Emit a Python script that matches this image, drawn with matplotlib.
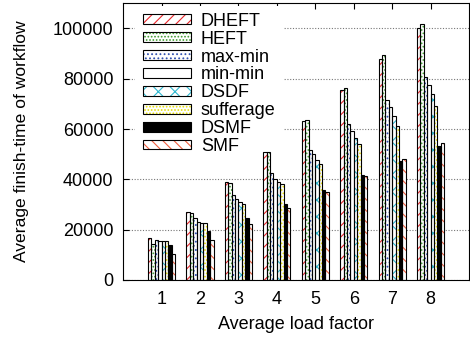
import numpy as np
import matplotlib
matplotlib.use('Agg')
import matplotlib.pyplot as plt
from matplotlib.patches import Patch
from matplotlib.legend_handler import HandlerTuple

plt.rcParams['font.family'] = ['Liberation Sans', 'DejaVu Sans']
plt.rcParams['hatch.linewidth'] = 0.8

# load factors (x axis)
load = [1, 2, 3, 4, 5, 6, 7, 8]

# average finish-time of workflow, per algorithm
dheft     = [16600, 27200, 38900, 50900, 63300, 75700, 87900, 100000]
heft      = [14300, 26600, 38500, 50900, 63700, 76400, 89400, 101900]
max_min   = [15900, 24600, 33600, 42500, 51800, 62100, 71700, 80700]
min_min   = [15500, 23200, 32300, 40200, 50100, 59400, 68800, 77500]
dsdf      = [15300, 22800, 31000, 38900, 47800, 56400, 65300, 74000]
sufferage = [15400, 22800, 30300, 38100, 46200, 54100, 61100, 69000]
dsmf      = [13900, 19500, 24800, 30300, 35900, 41800, 47400, 53100]
smf       = [10200, 15900, 22200, 28500, 34800, 41200, 48100, 54400]

names = ['DHEFT', 'HEFT', 'max-min', 'min-min', 'DSDF', 'sufferage', 'DSMF', 'SMF']
series = [dheft, heft, max_min, min_min, dsdf, sufferage, dsmf, smf]
# (fill colour, hatch colour, hatch)
styles = [
    ('white', '#e8262b', '///'),
    ('white', '#3a9a2a', '.....'),
    ('white', '#3050b0', '....'),
    ('white', 'white', ''),
    ('white', '#30b8d0', 'xx'),
    ('white', '#e8e000', '.....'),
    ('black', 'black', ''),
    ('white', '#f06040', '\\\\\\'),
]

fig = plt.figure(figsize=(4.70, 3.43), dpi=100)
ax = fig.add_axes([0.262, 0.1837, 0.736, 0.807])

x = np.array(load, dtype=float)
w = 0.088
handles = []
for i, (vals, (fc, hc, hatch)) in enumerate(zip(series, styles)):
    pos = x + (i - 3.5) * w
    ax.bar(pos, vals, w, color=fc, edgecolor=hc, hatch=hatch, linewidth=0, zorder=2)
    ax.bar(pos, vals, w, fill=False, edgecolor='black', linewidth=0.8, zorder=3)
    p1 = Patch(facecolor=fc, edgecolor=hc, hatch=hatch, linewidth=0)
    p2 = Patch(fill=False, edgecolor='black', linewidth=0.8)
    handles.append((p1, p2))

ax.set_xlim(0, 9)
ax.set_ylim(0, 110000)
ax.set_xticks(load)
ax.set_yticks([0, 20000, 40000, 60000, 80000, 100000])
ax.yaxis.grid(True, linestyle=(0, (1, 1.5)), color='#777777', linewidth=0.8, zorder=0)
ax.set_axisbelow(True)
ax.tick_params(axis='both', direction='in', length=4, labelsize=13, top=True, right=False)
ax.tick_params(axis='y', pad=7)
ax.tick_params(axis='x', pad=8)

ax.set_xlabel('Average load factor', fontsize=13, labelpad=6)
ax.set_ylabel('Average finish-time of workflow', fontsize=12.6, labelpad=17)

leg = ax.legend(handles, names, handler_map={tuple: HandlerTuple(ndivide=1, pad=0)},
                loc='upper left', bbox_to_anchor=(0.0285, 1.0), borderaxespad=0.13,
                fontsize=13, handlelength=2.67, handleheight=0.45, handletextpad=0.55,
                labelspacing=0.05, frameon=True, fancybox=False, framealpha=1,
                edgecolor='none', borderpad=0.4)
leg.set_zorder(1.5)

plt.savefig('out.png', dpi=100)
plt.close(fig)
